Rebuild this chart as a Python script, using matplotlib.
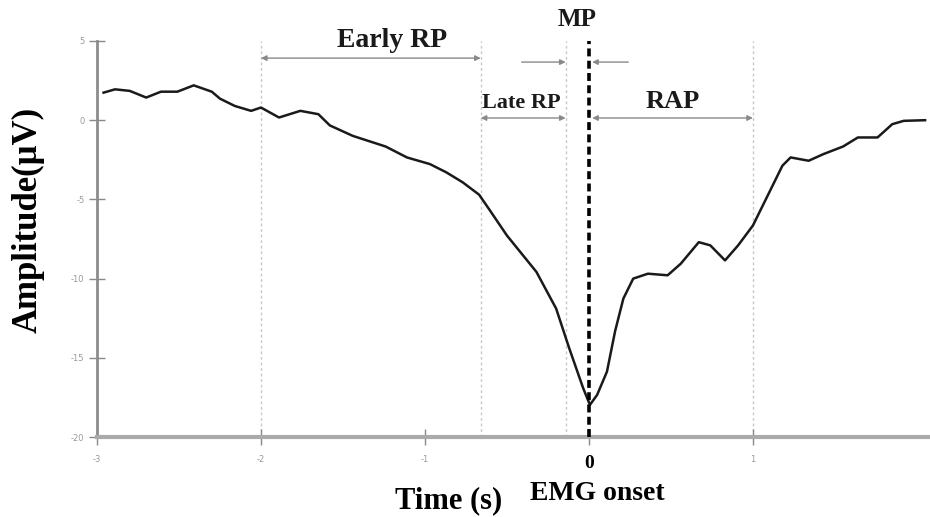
import numpy as np
import matplotlib.pyplot as plt

# averaged EEG trace
time_s = [-2.96, -2.89, -2.80, -2.70, -2.61, -2.51, -2.41, -2.30, -2.25, -2.16,
          -2.06, -2.00, -1.89, -1.76, -1.65, -1.58, -1.44, -1.24, -1.11, -0.97,
          -0.87, -0.77, -0.67, -0.61, -0.50, -0.32, -0.20, -0.12, -0.035, 0.006,
          0.05, 0.11, 0.16, 0.21, 0.27, 0.36, 0.48, 0.56, 0.67, 0.74,
          0.83, 0.91, 1.00, 1.10, 1.18, 1.23, 1.34, 1.43, 1.55, 1.64,
          1.76, 1.85, 1.92, 2.05]
amp_uv = [1.74, 1.95, 1.85, 1.43, 1.80, 1.80, 2.20, 1.80, 1.36, 0.90,
          0.59, 0.80, 0.17, 0.59, 0.38, -0.33, -0.99, -1.66, -2.35, -2.77,
          -3.29, -3.92, -4.70, -5.60, -7.28, -9.58, -11.89, -14.4, -16.92, -17.97,
          -17.34, -15.87, -13.3, -11.26, -10.0, -9.69, -9.79, -9.06, -7.70, -7.9,
          -8.85, -7.9, -6.65, -4.55, -2.87, -2.35, -2.56, -2.14, -1.66, -1.09,
          -1.09, -0.25, -0.04, 0.0]

x_ticks = [-3, -2, -1, 0, 1]
x_ticklabels = ['-3', '-2', '-1', '0', '1']
y_ticks = [5, 0, -5, -10, -15, -20]
y_ticklabels = ['5', '0', '-5', '-10', '-15', '-20']

# phase boundaries (s)
early_start = -2.0
late_start = -0.66
mp_start = -0.142
rap_end = 1.0

serif = ['Liberation Serif', 'DejaVu Serif']

fig = plt.figure(figsize=(9.3, 5.17), dpi=100)
ax = fig.add_axes([0.1043, 0.1547, 0.8957, 0.766])

for xv in [early_start, late_start, mp_start, rap_end]:
    ax.plot([xv, xv], [-20, 5], color='#c8c8c8', lw=1, ls=(0, (2, 2)), zorder=1)

ax.plot(time_s, amp_uv, color='#1a1a1a', lw=1.8, zorder=3)
ax.plot([0, 0], [-20, 5], color='black', lw=2.6, ls=(0, (2.2, 1.2)), zorder=4)

ax.set_xlim(-3, 2.08)
ax.set_ylim(-20, 5)

for s in ['top', 'right']:
    ax.spines[s].set_visible(False)
ax.spines['left'].set_color('#8c8c8c')
ax.spines['left'].set_linewidth(2)
ax.spines['bottom'].set_color('#aaaaaa')
ax.spines['bottom'].set_linewidth(3)

ax.set_xticks(x_ticks, x_ticklabels)
ax.set_yticks(y_ticks, y_ticklabels)
ax.tick_params(direction='inout', length=12, width=1, color='#888888',
               labelsize=6, labelcolor='#999999')
ax.tick_params(axis='x', pad=7)
ax.tick_params(axis='y', pad=3)
for lab in ax.get_xticklabels():
    if lab.get_text() == '0':
        lab.set_fontsize(14)
        lab.set_fontweight('bold')
        lab.set_color('black')
        lab.set_family(serif)

arrow = dict(arrowstyle='<|-|>', color='#8a8a8a', lw=1, mutation_scale=8,
             shrinkA=0, shrinkB=0)
one_way = dict(arrowstyle='-|>', color='#8a8a8a', lw=1, mutation_scale=8,
               shrinkA=0, shrinkB=0)

ax.annotate('', xy=(early_start, 3.92), xytext=(late_start, 3.92),
            arrowprops=arrow, annotation_clip=False)
ax.annotate('', xy=(late_start, 0.14), xytext=(mp_start, 0.14),
            arrowprops=arrow, annotation_clip=False)
ax.annotate('', xy=(0.02, 0.14), xytext=(rap_end, 0.14),
            arrowprops=arrow, annotation_clip=False)
ax.annotate('', xy=(mp_start, 3.67), xytext=(-0.41, 3.67),
            arrowprops=one_way, annotation_clip=False)
ax.annotate('', xy=(0.02, 3.67), xytext=(0.24, 3.67),
            arrowprops=one_way, annotation_clip=False)

txt = dict(family=serif, fontweight='bold', color='#1a1a1a',
           ha='center', va='center', clip_on=False)
ax.text(-1.20, 5.0, 'Early RP', fontsize=20, **txt)
ax.text(-0.41, 1.07, 'Late RP', fontsize=16, **txt)
ax.text(0.51, 1.2, 'RAP', fontsize=19, **txt)
ax.text(-0.07, 6.34, 'MP', fontsize=18, **txt)

fig.text(0.482, 1 - 508 / 517, 'Time (s)', fontsize=22, family=serif,
         fontweight='bold', ha='center', va='baseline')
fig.text(0.642, 1 - 500 / 517, 'EMG onset', fontsize=20, family=serif,
         fontweight='bold', ha='center', va='baseline')
fig.text(0.030, 0.574, 'Amplitude(μV)', fontsize=25, family=serif,
         fontweight='bold', ha='center', va='center', rotation=90)

plt.savefig('out.png', dpi=100)
